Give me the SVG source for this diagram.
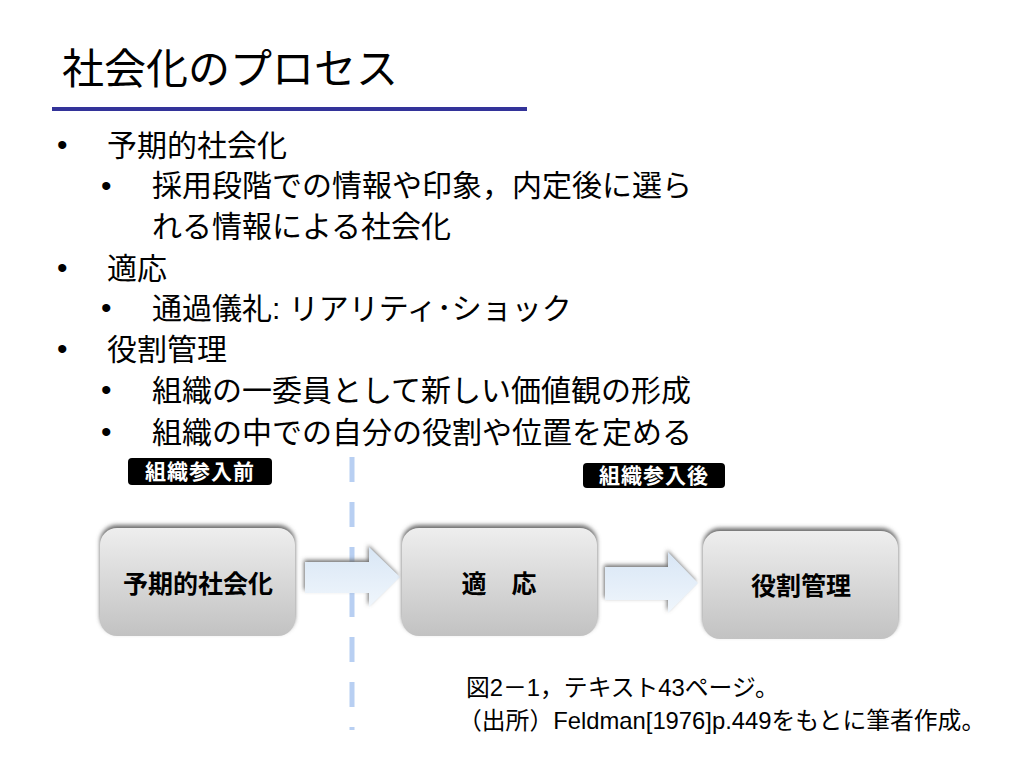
<svg xmlns="http://www.w3.org/2000/svg" width="1023" height="767" viewBox="0 0 1023 767">
<defs>
<style>
.t{font-family:"Liberation Sans","Noto Sans CJK JP",sans-serif;fill:#000}
.b1{font-size:30px}
.bul{font-family:"Liberation Sans",sans-serif;font-size:30px}
.tag{font-family:"Liberation Sans","Noto Sans CJK JP",sans-serif;font-size:21px;font-weight:bold;fill:#fff;text-anchor:middle;letter-spacing:1px}
.bx{font-family:"Liberation Sans","Noto Sans CJK JP",sans-serif;font-size:25px;font-weight:bold;fill:#000;text-anchor:middle}
.cap{font-family:"Liberation Sans","Noto Sans CJK JP",sans-serif;font-size:23.8px;fill:#000}
</style>
<linearGradient id="gBox" x1="0" y1="0" x2="0" y2="1">
<stop offset="0" stop-color="#eeeeee"/>
<stop offset="1" stop-color="#c2c2c2"/>
</linearGradient>
<linearGradient id="gArr" x1="0" y1="0" x2="0" y2="1">
<stop offset="0" stop-color="#d8e6f5"/>
<stop offset="1" stop-color="#f0f6fc"/>
</linearGradient>
<filter id="blur" x="-10%" y="-10%" width="120%" height="120%">
<feGaussianBlur stdDeviation="2"/>
</filter>
</defs>
<rect width="1023" height="767" fill="#ffffff"/>

<g id="title">
<text class="t" x="62" y="84" font-size="42">社会化のプロセス</text>
<rect x="52" y="107" width="475" height="4" fill="#333399"/>
</g>

<g id="bullets">
<text class="bul" x="57" y="155">•</text>
<text class="t b1" x="107" y="156">予期的社会化</text>
<text class="bul" x="101" y="196">•</text>
<text class="t b1" x="152" y="196">採用段階での情報や印象，内定後に選ら</text>
<text class="t b1" x="152" y="237">れる情報による社会化</text>
<text class="bul" x="57" y="278">•</text>
<text class="t b1" x="107" y="279">適応</text>
<text class="bul" x="101" y="318">•</text>
<text class="t b1" x="152" y="319">通過儀礼: リアリティ･ショック</text>
<text class="bul" x="57" y="359">•</text>
<text class="t b1" x="107" y="360">役割管理</text>
<text class="bul" x="101" y="400">•</text>
<text class="t b1" x="152" y="401">組織の一委員として新しい価値観の形成</text>
<text class="bul" x="101" y="442">•</text>
<text class="t b1" x="152" y="443">組織の中での自分の役割や位置を定める</text>
</g>

<g id="divider">
<line x1="352" y1="457" x2="352" y2="730" stroke="#b8cff2" stroke-width="5" stroke-dasharray="25 20"/>
</g>

<g id="tag-before">
<rect x="128" y="458" width="144" height="27" rx="4" fill="#000"/>
<text class="tag" x="200" y="479">組織参入前</text>
</g>
<g id="tag-after">
<rect x="583" y="463" width="142" height="25" rx="4" fill="#000"/>
<text class="tag" x="654" y="483">組織参入後</text>
</g>

<g id="connectors">
<g id="arrow1">
<polygon points="304,560 368,560 368,545 398,575 368,605 368,590 304,590" fill="#6e6e6e" filter="url(#blur)"/>
<polygon points="305,562 369,562 369,547 400,577 369,607 369,593 305,593" fill="url(#gArr)"/>
</g>
<g id="arrow2">
<polygon points="604,565 667,565 667,550 696,581 667,611 667,598 604,598" fill="#6e6e6e" filter="url(#blur)"/>
<polygon points="605,567 668,567 668,552 698,583 668,613 668,600 605,600" fill="url(#gArr)"/>
</g>
</g>

<g id="node-anticipatory">
<rect x="100" y="525" width="195" height="108" rx="17" fill="#6a6a6a" filter="url(#blur)"/>
<rect x="100" y="528" width="195" height="108" rx="17" fill="url(#gBox)"/>
<text class="bx" x="198" y="593">予期的社会化</text>
</g>
<g id="node-adaptation">
<rect x="402" y="525" width="195" height="108" rx="17" fill="#6a6a6a" filter="url(#blur)"/>
<rect x="402" y="528" width="195" height="108" rx="17" fill="url(#gBox)"/>
<text class="bx" x="499" y="593">適　応</text>
</g>
<g id="node-role">
<rect x="703" y="528" width="195" height="108" rx="17" fill="#6a6a6a" filter="url(#blur)"/>
<rect x="703" y="531" width="195" height="108" rx="17" fill="url(#gBox)"/>
<text class="bx" x="801" y="595">役割管理</text>
</g>

<g id="caption">
<text class="cap" x="466" y="696">図2－1，テキスト43ページ。</text>
<text class="cap" x="458" y="729">（出所）Feldman[1976]p.449をもとに筆者作成。</text>
</g>
</svg>
